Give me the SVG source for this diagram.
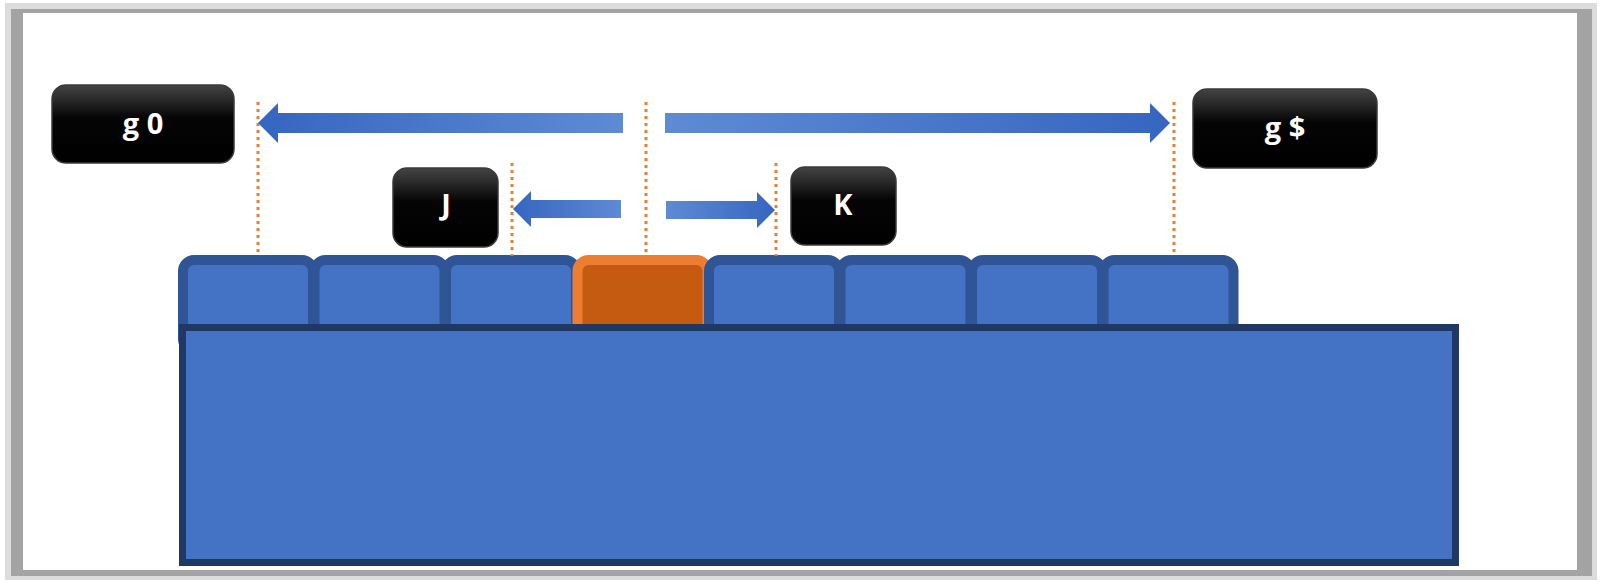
<svg xmlns="http://www.w3.org/2000/svg" width="1600" height="584" viewBox="0 0 1600 584">
  <defs>
    <linearGradient id="capGrad" x1="0" y1="0" x2="0" y2="1">
      <stop offset="0" stop-color="#444444"/>
      <stop offset="0.18" stop-color="#2a2a2a"/>
      <stop offset="0.42" stop-color="#050505"/>
      <stop offset="1" stop-color="#000000"/>
    </linearGradient>
    <linearGradient id="arrowR" x1="0" y1="0" x2="1" y2="0">
      <stop offset="0" stop-color="#5f8ad4"/>
      <stop offset="1" stop-color="#3566c0"/>
    </linearGradient>
    <linearGradient id="arrowL" x1="1" y1="0" x2="0" y2="0">
      <stop offset="0" stop-color="#5f8ad4"/>
      <stop offset="1" stop-color="#3566c0"/>
    </linearGradient>
    <style>
      .key { fill: #4472c4; stroke: #2f5597; stroke-width: 10; }
      .cur { fill: #c55a11; stroke: #ed7d31; stroke-width: 10; }
      .cap { fill: url(#capGrad); stroke: #3a3a3a; stroke-width: 1.5; }
      .lbl { font-family: "Open Sans", "DejaVu Sans", sans-serif; font-weight: 700; font-size: 29px; fill: #ffffff; text-anchor: middle; }
      .guide { stroke: #ed7d31; stroke-width: 3; stroke-dasharray: 3 4; fill: none; }
    </style>
  </defs>

  <g id="frame">
    <rect x="5" y="3" width="1592" height="577" fill="#dcdcdc"/>
    <rect x="11" y="9" width="1581" height="567" fill="#a3a3a3"/>
    <rect x="23" y="13" width="1554" height="557" fill="#ffffff"/>
  </g>

  <g id="keys">
    <rect id="key-1" class="key" x="183" y="260" width="130" height="90" rx="11"/>
    <rect id="key-2" class="key" x="314.5" y="260" width="130" height="90" rx="11"/>
    <rect id="key-3" class="key" x="446" y="260" width="130" height="90" rx="11"/>
    <rect id="key-4" class="cur" x="577.5" y="260" width="130" height="90" rx="11"/>
    <rect id="key-5" class="key" x="709" y="260" width="130" height="90" rx="11"/>
    <rect id="key-6" class="key" x="840.5" y="260" width="130" height="90" rx="11"/>
    <rect id="key-7" class="key" x="972" y="260" width="130" height="90" rx="11"/>
    <rect id="key-8" class="key" x="1103.5" y="260" width="130" height="90" rx="11"/>
  </g>

  <g id="body">
    <rect x="182.5" y="327.5" width="1273" height="235" fill="#4472c4" stroke="#203864" stroke-width="7"/>
  </g>

  <g id="guides">
    <line class="guide" x1="258" y1="102" x2="258" y2="254"/>
    <line class="guide" x1="512" y1="163" x2="512" y2="256"/>
    <line class="guide" x1="646" y1="102" x2="646" y2="256"/>
    <line class="guide" x1="776" y1="163" x2="776" y2="256"/>
    <line class="guide" x1="1174" y1="102" x2="1174" y2="254"/>
  </g>

  <g id="connectors">
    <polygon fill="url(#arrowL)" points="258,123 278,103 278,113 623,113 623,133 278,133 278,143"/>
    <polygon fill="url(#arrowR)" points="665,113 1150,113 1150,103 1170,123 1150,143 1150,133 665,133"/>
    <polygon fill="url(#arrowL)" points="513,209 531,191 531,200 621,200 621,218 531,218 531,227"/>
    <polygon fill="url(#arrowR)" points="666,201 757,201 757,192 775,210 757,228 757,219 666,219"/>
  </g>

  <g id="cap-g0">
    <rect class="cap" x="52" y="85" width="182" height="78" rx="14"/>
    <text class="lbl" x="143" y="134">g 0</text>
  </g>
  <g id="cap-gdollar">
    <rect class="cap" x="1193" y="89" width="184" height="79" rx="14"/>
    <text class="lbl" x="1285" y="138">g $</text>
  </g>
  <g id="cap-j">
    <rect class="cap" x="393" y="168" width="105" height="79" rx="14"/>
    <text class="lbl" x="446" y="215">J</text>
  </g>
  <g id="cap-k">
    <rect class="cap" x="791" y="167" width="105" height="78" rx="14"/>
    <text class="lbl" x="843" y="215">K</text>
  </g>
</svg>
